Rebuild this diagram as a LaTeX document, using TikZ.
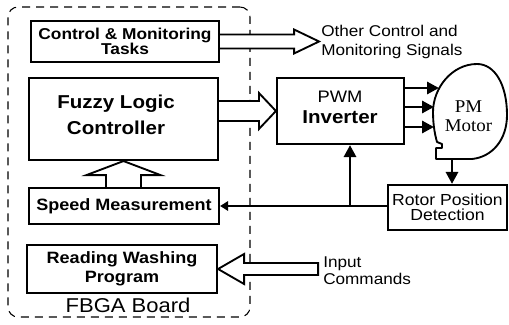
\documentclass[tikz,border=0pt]{standalone}
\usepackage{fontspec}
\setmainfont{Liberation Sans}[FakeStretch=1.1]
\newfontfamily\motorfont{Liberation Serif}[FakeStretch=1.05]
\usetikzlibrary{arrows.meta,calc}

\begin{document}
\begin{tikzpicture}[x=0.75pt,y=-0.75pt,
  box/.style={draw, line width=1.6pt, inner sep=0pt, align=center},
  frame/.style={draw, dash pattern=on 6pt off 4.5pt, line width=0.8pt,
    rounded corners=7.5pt, inner sep=0pt},
  hollow/.style={draw, fill=white, line width=1.4pt, line join=miter},
  sigline/.style={line width=2.2pt},
  tip/.style={-{Triangle[length=9pt,width=9pt]}},
  smalltip/.style={-{Triangle[length=6pt,width=7pt]}},
  motorline/.style={draw, line width=1.4pt, line join=round},
  lbl/.style={inner sep=0pt, align=left}
]
\fill[white] (0,0) rectangle (509,324);
\useasboundingbox (0,0) rectangle (509,324);

% FPGA board frame
\node[frame, minimum width=181.5pt, minimum height=232.5pt] (board) at (129,162) {};

% blocks on the board
\node[box, minimum width=141pt, minimum height=30.75pt,
  font={\fontsize{11.8}{11.2}\selectfont\bfseries}]
  (ctl) at (125,41.5) {Control \& Monitoring\\Tasks};
\node[box, minimum width=141.75pt, minimum height=61.5pt] (fz) at (123.5,119) {};
\node[lbl, align=center, font={\fontsize{14}{19.5}\selectfont\bfseries}]
  (fzt) at (116,115) {Fuzzy Logic\\Controller};
\node[box, minimum width=142.5pt, minimum height=27pt,
  font={\fontsize{12.3}{14}\selectfont\bfseries}]
  (sp) at (124,206) {Speed Measurement};
\node[box, minimum width=142.5pt, minimum height=36pt,
  font={\fontsize{12.3}{14.25}\selectfont\bfseries}]
  (rd) at (122,269) {Reading Washing\\Program};
\node[inner sep=0pt, font={\fontsize{15}{18}\selectfont}] (brd) at (128,305) {FBGA Board};

% power stage
\node[box, minimum width=95.25pt, minimum height=49.5pt] (inv) at (340.5,111) {};
\node[inner sep=0pt, align=center, font={\fontsize{12.5}{15.5}\selectfont}]
  (invt) at (340,107.5)
  {PWM\\{\fontsize{14}{15.5}\selectfont\bfseries Inverter}};
\node[box, minimum width=89.25pt, minimum height=33.75pt,
  font={\fontsize{12}{11.5}\selectfont\lineskiplimit=-10pt}]
  (rot) at (447.5,207.5) {Rotor Position\\Detection};

% motor outline with its base
\draw[motorline] (436,148) -- (436,159) -- (472,159)
  .. controls (492,157) and (507,140) .. (507,115)
  .. controls (507,85) and (495,64) .. (477,64)
  .. controls (452,64) and (433,88) .. (433,112)
  .. controls (433,125) and (435,135) .. (437,142)
  -- (442,144) -- (442,148) -- cycle;
\node[inner sep=0pt, align=center, font={\motorfont\fontsize{13.5}{14.25}\selectfont}]
  (mot) at (468.5,116.5) {PM\\Motor};
\coordinate (m1) at (439,88);
\coordinate (m2) at (434,107);
\coordinate (m3) at (434,127);
\coordinate (mb) at (452,159);

% free labels
\node[lbl, anchor=west, font={\fontsize{11.7}{14.25}\selectfont}]
  (oth) at (321,41.5) {Other Control and\\Monitoring Signals};
\node[lbl, anchor=west, font={\fontsize{11.7}{12.75}\selectfont}]
  (inp) at (323,270.5) {Input\\Commands};

% hollow arrows
\draw[hollow] ($(ctl.east)+(0,-7)$) -- ++(74,0) -- ++(0,-5) -- ($(ctl.east)+(99,0)$)
  -- ($(ctl.east)+(74,12)$) -- ++(0,-5) -- ($(ctl.east)+(0,7)$);

\coordinate (fzx) at (fz.east |- inv.west);
\draw[hollow] ($(fzx)+(0,-10)$) -- ($(inv.west)+(-17,-10)$) -- ++(0,-8) -- (inv.west)
  -- ($(inv.west)+(-17,18)$) -- ++(0,-8) -- ($(fzx)+(0,10)$);

\coordinate (spn) at (fz.south |- sp.north);
\draw[hollow] ($(spn)+(-17.5,0)$) -- ($(fz.south)+(-17.5,14)$) -- ++(-19.5,0) -- (fz.south)
  -- ($(fz.south)+(37,14)$) -- ++(-19.5,0) -- ($(spn)+(17.5,0)$);

\draw[hollow] (rd.east) -- ($(rd.east)+(26,-15)$) -- ++(0,9) -- ++(74,0) -- ++(0,12)
  -- ++(-74,0) -- ++(0,9) -- cycle;

% inverter phases to the motor
\draw[sigline, tip] (inv.east |- m1) -- (m1);
\draw[sigline, tip] (inv.east |- m2) -- (m2);
\draw[sigline, tip] (inv.east |- m3) -- (m3);

% position feedback
\draw[sigline, tip] (mb) -- (mb |- rot.north);
\draw[sigline, smalltip] (rot.west |- sp.east) -- (sp.east);
\coordinate (br) at ($(inv.south |- sp.east)+(9.5,0)$);
\draw[sigline, tip] (br) -- (br |- inv.south);
\end{tikzpicture}
\end{document}
